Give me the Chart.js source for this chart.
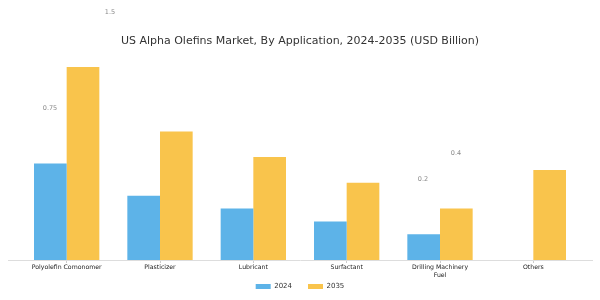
<!DOCTYPE html>
<html>
<head>
<meta charset="utf-8">
<script src="https://cdn.jsdelivr.net/npm/chart.js@4.4.0/dist/chart.umd.min.js"></script>
<style>
  html, body { margin: 0; padding: 0; background: #ffffff; }
  #wrap { width: 600px; height: 300px; position: relative; }
</style>
</head>
<body>
<div id="wrap"><canvas id="c" width="600" height="300"></canvas></div>
<script>
const categories = [
  "Polyolefin Comonomer",
  "Plasticizer",
  "Lubricant",
  "Surfactant",
  ["Drilling Machinery", "Fuel"],
  "Others"
];
const series2024 = [0.75, 0.5, 0.4, 0.3, 0.2, 0];
const series2035 = [1.5, 1.0, 0.8, 0.6, 0.4, 0.7];
const seriesNames = ["2024", "2035"];
const titleText = "US Alpha Olefins Market, By Application, 2024-2035 (USD Billion)";
const strayLabels = ["1.5", "0.75", "0.2", "0.4"];

const FONT = "'DejaVu Sans', sans-serif";

const strayPlugin = {
  id: 'stray',
  afterDraw(chart) {
    const ctx = chart.ctx;
    const pos = [[110, 12], [50, 108], [423, 179], [456, 153]];
    ctx.save();
    ctx.font = "6.5px " + FONT;
    ctx.fillStyle = "#8a8a8a";
    ctx.textAlign = "center";
    ctx.textBaseline = "middle";
    strayLabels.forEach((t, i) => ctx.fillText(t, pos[i][0], pos[i][1]));
    ctx.restore();
  }
};

const axisLinePlugin = {
  id: 'axisLine',
  beforeDraw(chart) {
    // let the x tick labels run below the (shortened) axis box without clipping
    chart.scales.x._computeLabelArea = () => undefined;
  },
  beforeDatasetsDraw(chart) {
    const a = chart.chartArea;
    const ctx = chart.ctx;
    ctx.save();
    ctx.strokeStyle = "#dddddd";
    ctx.lineWidth = 1;
    ctx.beginPath();
    ctx.moveTo(a.left - 12, Math.round(a.bottom) + 0.5);
    ctx.lineTo(a.right + 13, Math.round(a.bottom) + 0.5);
    ctx.stroke();
    ctx.restore();
  }
};

new Chart(document.getElementById('c'), {
  type: 'bar',
  data: {
    labels: categories,
    datasets: [
      { label: seriesNames[0], data: series2024, backgroundColor: '#5db3e8', borderWidth: 0 },
      { label: seriesNames[1], data: series2035, backgroundColor: '#f9c44c', borderWidth: 0 }
    ]
  },
  options: {
    responsive: false,
    animation: false,
    layout: { padding: { left: 20, right: 20, top: 0, bottom: 0 } },
    datasets: { bar: { categoryPercentage: 0.7, barPercentage: 1.0 } },
    plugins: {
      title: {
        display: true,
        text: titleText,
        color: '#333333',
        font: { family: FONT, size: 11, weight: 'normal' },
        padding: { top: 35, bottom: 6 }
      },
      legend: {
        display: true,
        position: 'bottom',
        labels: {
          boxWidth: 15,
          boxHeight: 5,
          padding: 16,
          color: '#333333',
          font: { family: FONT, size: 7 }
        }
      },
      tooltip: { enabled: false }
    },
    scales: {
      x: {
        afterFit(s) { s.height = 7; },
        grid: { display: true, drawOnChartArea: false, drawTicks: true, tickLength: 3, offset: false, color: '#cccccc' },
        border: { display: false },
        ticks: { color: '#222222', padding: 1, font: { family: FONT, size: 6.2, lineHeight: 1.2 }, maxRotation: 0, autoSkip: false }
      },
      y: {
        display: false,
        min: 0,
        max: 1.6
      }
    }
  },
  plugins: [strayPlugin, axisLinePlugin]
});
</script>
</body>
</html>
